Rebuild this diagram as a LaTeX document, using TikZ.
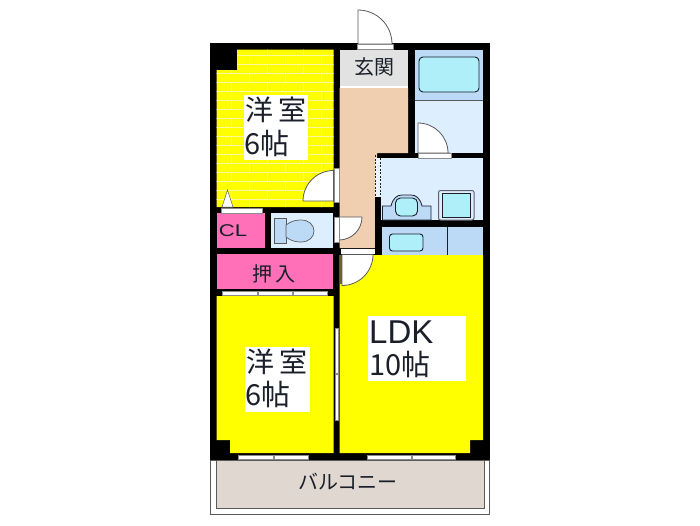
\documentclass[tikz,border=0pt]{standalone}
\usepackage{fontspec}
\setmainfont{Liberation Sans}
\newfontfamily\jpfont{Noto Sans CJK JP}
\definecolor{wallc}{HTML}{000000}
\definecolor{roomy}{HTML}{FFFF00}
\definecolor{brick}{HTML}{FFF9A0}
\definecolor{pinkc}{HTML}{FF70B8}
\definecolor{paleb}{HTML}{DDEEFF}
\definecolor{midb}{HTML}{BCD9F5}
\definecolor{aqua}{HTML}{AEEFFA}
\definecolor{beige}{HTML}{F0CFB0}
\definecolor{greyc}{HTML}{E2E2E2}
\definecolor{balc}{HTML}{E0D8D0}
\definecolor{ink}{HTML}{1A1F2A}
\definecolor{linec}{HTML}{5A5A5A}
\tikzset{
  fixture/.style={fill=aqua,draw=ink,line width=0.9pt},
  doorleaf/.style={fill=white,draw=linec,line width=0.8pt},
  slider/.style={fill=white,draw=linec!70,line width=0.8pt},
  labelbox/.style={fill=white,inner sep=0pt,anchor=north west},
  plainlabel/.style={inner sep=0pt,text=ink},
  brickline/.style={draw=brick,line width=1.4pt},
}
\begin{document}
\begin{tikzpicture}[x=1pt,y=-1pt]
\useasboundingbox (0,0) rectangle (700,525);
% walls
\fill[wallc] (210,43) rectangle (490,460);
% upper-left room with brick pattern
\begin{scope}
\fill[roomy] (237,49.5) -- (333.5,49.5) -- (333.5,207) -- (216.5,207) -- (216.5,70) -- (237,70) -- cycle;
\clip (237,49.5) -- (333.5,49.5) -- (333.5,207) -- (216.5,207) -- (216.5,70) -- (237,70) -- cycle;
\foreach \yy in {55.7,64.7,...,205}{
  \path[brickline] (216,\yy) -- (334,\yy);
}
\foreach \yy in {46.7,64.7,...,205}{
  \foreach \xx in {231.7,267.7,303.7}{
    \path[brickline] (\xx,\yy) -- ++(0,9);
  }
}
\foreach \yy in {55.7,73.7,...,205}{
  \foreach \xx in {249.7,285.7,321.7}{
    \path[brickline] (\xx,\yy) -- ++(0,9);
  }
}
\end{scope}
% hall
\fill[greyc] (339.5,49.5) rectangle (408,86);
\fill[white] (339.5,86) rectangle (408,88);
\fill[beige] (339.5,88) -- (408,88) -- (408,153) -- (377,153) -- (377,158) -- (375,158) -- (375,248) -- (339.5,248) -- cycle;
\fill[white] (340.5,249) rectangle (374.5,254);
% bath
\fill[midb] (415,49.5) rectangle (483,100);
\fill[paleb] (415,100) rectangle (483,153);
\draw[linec,line width=0.7pt] (415,100) -- (483,100);
\draw[fixture,rounded corners=4pt] (419,57) rectangle (479,92);
% washroom
\fill[paleb] (381,158) rectangle (483,220);
\fill[paleb!60!white] (375,158) rectangle (381,197);
\draw[ink,dash pattern=on 2pt off 1.5pt,line width=0.9pt] (375,155) -- (375,197);
\draw[ink,dash pattern=on 2pt off 1.5pt,line width=0.9pt] (380,158) -- (380,197);
\fill[wallc] (375,197) rectangle (381,255);
\draw[fill=midb,draw=ink,line width=0.8pt] (382.5,220) -- (382.5,206) -- (391,206) .. controls (393,198) and (397,195) .. (402,195) -- (411,195) .. controls (416,195) and (420,198) .. (422,206) -- (431,206) -- (431,220) -- cycle;
\draw[fixture,rounded corners=5pt] (395.5,198) rectangle (417.5,216);
\draw[fill=paleb,draw=ink!70,line width=1pt,rounded corners=2pt] (438.5,190.5) rectangle (474,220);
\draw[fixture,line width=0.8pt] (442,193.5) rectangle (470.5,217);
% kitchen strip
\fill[midb] (381.5,227) rectangle (483,255);
\draw[ink,line width=0.8pt] (447.7,227) -- (447.7,255);
\draw[fixture,rounded corners=3pt] (389.5,234) rectangle (423,251);
% toilet and closets
\fill[pinkc] (216.5,213) rectangle (265,248);
\fill[paleb] (271,213) rectangle (333,248);
\fill[pinkc] (216.5,254) rectangle (333,289);
\draw[fill=midb,draw=linec,line width=0.7pt] (274,218) rectangle (286,243);
\draw[fill=midb,draw=linec,line width=0.7pt] (286,225) .. controls (291,221) and (296,220) .. (301,220) .. controls (309,220) and (314,225) .. (314,231) .. controls (314,237) and (309,242) .. (301,242) .. controls (296,242) and (291,241) .. (286,237) -- cycle;
% big rooms
\fill[roomy] (216.5,296) -- (333.5,296) -- (333.5,453) -- (230,453) -- (230,440) -- (216.5,440) -- cycle;
\fill[roomy] (339.5,255) -- (483,255) -- (483,440) -- (470,440) -- (470,453) -- (339.5,453) -- cycle;
% doors
\draw[doorleaf] (358,44) -- (358,10) arc[start angle=-90,end angle=0,radius=34] -- cycle;
\draw[slider] (357,44) rectangle (393,49);
\draw[doorleaf] (418,153) -- (418,123) arc[start angle=-90,end angle=0,radius=30] -- (450,153) -- cycle;
\draw[slider] (418,153) rectangle (451,158);
\draw[doorleaf] (333.5,201) -- (303,201) arc[start angle=180,end angle=270,radius=30.5] -- cycle;
\draw[slider] (334,168) rectangle (339,202);
\draw[doorleaf] (339,217) -- (362,217) arc[start angle=0,end angle=90,radius=23] -- cycle;
\draw[slider] (334,217) rectangle (339,242);
\fill[olive!70!black] (339.5,255) rectangle (342,284);
\draw[doorleaf] (342,254.5) -- (373,254.5) arc[start angle=0,end angle=90,radius=31] -- cycle;
\draw[fill=white,draw=linec,line width=0.5pt] (222,207) -- (227.5,190) -- (233,207) -- cycle;
\draw[slider] (221,208) rectangle (262,213);
% sliding doors and windows
\foreach \a/\b in {222/257,258/292,293/327}{\draw[slider] (\a,291) rectangle (\b,295);}
\foreach \a/\b in {238.5/273,274/308,367/411,412/455}{\draw[slider] (\a,455) rectangle (\b,459);}
\draw[slider] (335,328) rectangle (338,373.5);
\draw[slider] (335,374.5) rectangle (338,420);
% balcony
\draw[fill=white,draw=linec,line width=0.8pt] (210.5,460) rectangle (489.5,514);
\draw[fill=balc,draw=linec,line width=0.8pt] (216,460) rectangle (484,508);
% labels
\node[labelbox,minimum width=64pt,minimum height=65pt] (room1) at (244,95) {};
\node[plainlabel,anchor=west,font=\jpfont\fontsize{28}{28}\selectfont] (room1a) at (245,110) {洋\hspace{5pt}室};
\node[plainlabel,anchor=west,font=\jpfont\fontsize{29}{29}\selectfont] (room1b) at (244,143) {6帖};
\node[labelbox,minimum width=65pt,minimum height=65pt] (room3) at (245,347) {};
\node[plainlabel,anchor=west,font=\jpfont\fontsize{28}{28}\selectfont] (room3a) at (246,362) {洋\hspace{5pt}室};
\node[plainlabel,anchor=west,font=\jpfont\fontsize{29}{29}\selectfont] (room3b) at (245,394) {6帖};
\node[labelbox,minimum width=98pt,minimum height=65pt] (ldk) at (368,316) {};
\node[plainlabel,anchor=west,font=\fontsize{33}{33}\selectfont] (ldka) at (369,332) {LDK};
\node[plainlabel,anchor=west,font=\jpfont\fontsize{29}{29}\selectfont] (ldkb) at (369,364) {10帖};
\node[plainlabel,font=\jpfont\fontsize{20}{20}\selectfont] (entry) at (374.5,67) {玄関};
\node[plainlabel,font=\jpfont\fontsize{20}{20}\selectfont] (oshi) at (274,274) {押\hspace{3pt}入};
\node[plainlabel,xscale=1.3,font=\fontsize{17}{17}\selectfont] (cl) at (233,231) {CL};
\node[plainlabel,font=\jpfont\fontsize{20}{20}\selectfont] (balcony) at (348,482) {バルコニー};
\end{tikzpicture}
\end{document}
